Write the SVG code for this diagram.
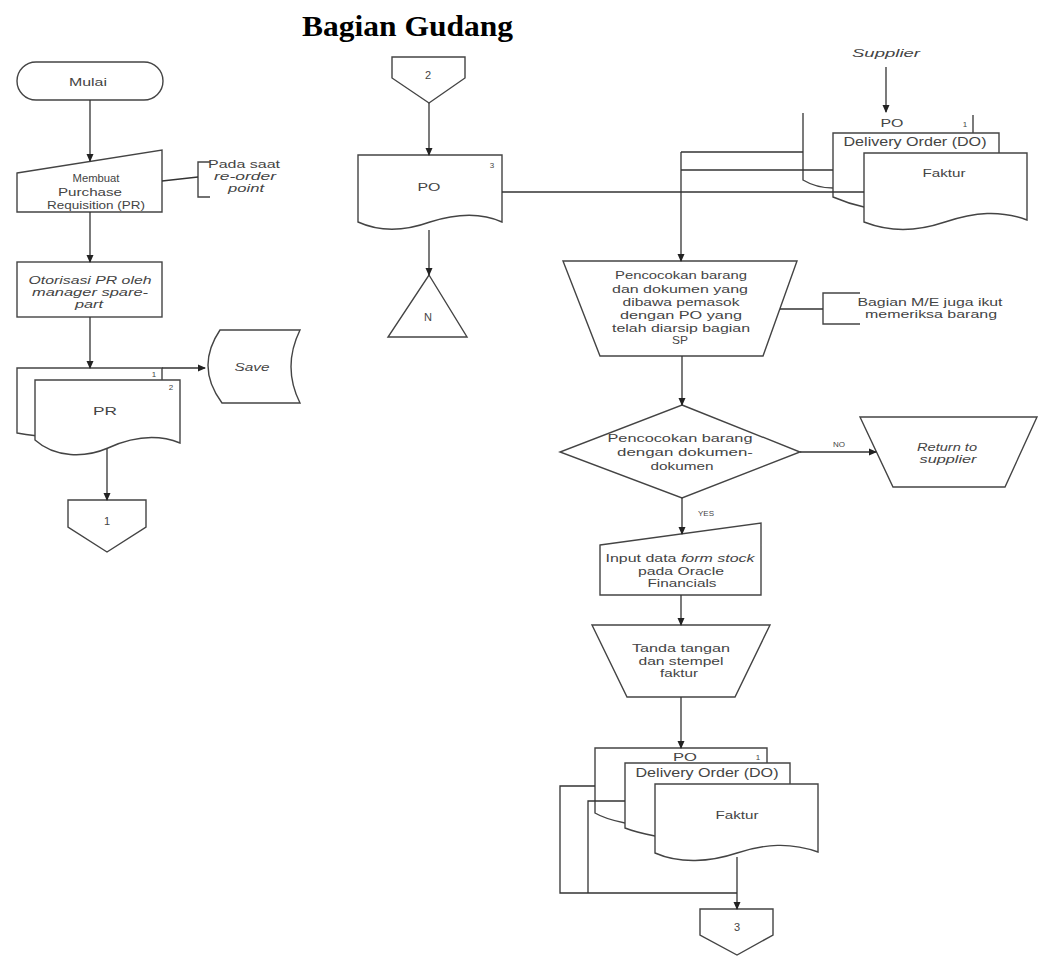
<svg xmlns="http://www.w3.org/2000/svg" width="1039" height="956" viewBox="0 0 1039 956">
<defs>
<marker id="ah" markerWidth="8" markerHeight="8" refX="7" refY="4" orient="auto" markerUnits="userSpaceOnUse">
<path d="M0,0.5 L8,4 L0,7.5 Z" fill="#222"/>
</marker>
<style>
.s{fill:#fff;stroke:#444;stroke-width:1.4}
.o{fill:none;stroke:#444;stroke-width:1.4}
.c{fill:none;stroke:#333;stroke-width:1.3}
.a{fill:none;stroke:#333;stroke-width:1.3;marker-end:url(#ah)}
text{font-family:"Liberation Sans",Arial,sans-serif;font-size:11px;fill:#444;text-anchor:middle}
.i{font-style:italic}
.m{font-size:12px}
.sm{font-size:8px}
.t{font-family:"Liberation Serif","Times New Roman",serif;font-weight:bold;font-size:30px;fill:#000;text-anchor:start}
</style>
</defs>
<rect width="1039" height="956" fill="#fff"/>
<text class="t" x="302" y="36" textLength="211" lengthAdjust="spacingAndGlyphs">Bagian Gudang</text>

<g id="mulai">
<rect class="s" x="17" y="62" width="146" height="38" rx="19"/>
<text x="88" y="86" textLength="38" lengthAdjust="spacingAndGlyphs">Mulai</text>
</g>
<g id="membuat-pr">
<path class="s" d="M17,173 L162,150 V212 H17 Z"/>
<text x="96" y="182" textLength="47" lengthAdjust="spacingAndGlyphs">Membuat</text>
<text x="90" y="196" textLength="64" lengthAdjust="spacingAndGlyphs">Purchase</text>
<text x="96" y="209" textLength="98" lengthAdjust="spacingAndGlyphs">Requisition (PR)</text>
</g>
<g id="note-reorder">
<path class="o" d="M210,162 H198 V197 H210"/>
<text x="244" y="168" textLength="72" lengthAdjust="spacingAndGlyphs">Pada saat</text>
<text class="i" x="245" y="180" textLength="62" lengthAdjust="spacingAndGlyphs">re-order</text>
<text class="i" x="246" y="192" textLength="36" lengthAdjust="spacingAndGlyphs">point</text>
</g>
<g id="otorisasi">
<rect class="s" x="17" y="262" width="145" height="55"/>
<text class="i" x="90" y="284" textLength="123" lengthAdjust="spacingAndGlyphs">Otorisasi PR oleh</text>
<text class="i" x="90" y="296" textLength="116" lengthAdjust="spacingAndGlyphs">manager spare-</text>
<text class="i" x="89" y="308" textLength="28" lengthAdjust="spacingAndGlyphs">part</text>
</g>
<g id="pr-docs">
<path class="s" d="M17,368 H162 V428 C100,436 50,440 17,433 Z"/>
<path class="s" d="M35,380 H180 V443 C155,433 130,438 108,448 C85,458 55,458 35,440 Z"/>
<text class="sm" x="154" y="377">1</text>
<text class="sm" x="171" y="390">2</text>
<text x="105" y="415" textLength="24" lengthAdjust="spacingAndGlyphs">PR</text>
</g>
<g id="save">
<path class="s" d="M220,330 H300 Q282,367 300,403 H222 Q195,367 220,330 Z"/>
<text class="i" x="252" y="371" textLength="35" lengthAdjust="spacingAndGlyphs">Save</text>
</g>
<g id="conn-1">
<path class="s" d="M68,500 H146 V527 L107,552 L68,527 Z"/>
<text x="107" y="525">1</text>
</g>

<g id="conn-2">
<path class="s" d="M392,57 H465 V78 L429,103 L392,78 Z"/>
<text x="428" y="79">2</text>
</g>
<g id="po-doc">
<path class="s" d="M358,155 H502 V222 C480,212 455,214 430,222 C405,231 380,232 358,222 Z"/>
<text class="sm" x="492" y="168">3</text>
<text x="429" y="191" textLength="23" lengthAdjust="spacingAndGlyphs">PO</text>
</g>
<g id="offline-n">
<path class="s" d="M429,275 L467,337 L388,337 Z"/>
<text x="428" y="321">N</text>
</g>

<g id="supplier">
<text class="i" x="886" y="57" textLength="68" lengthAdjust="spacingAndGlyphs">Supplier</text>
</g>
<g id="supplier-docs">
<path class="o" d="M803,113 V180 C813,186 823,188 833,188"/>
<path class="o" d="M973,115 V133"/>
<text x="892" y="127" textLength="23" lengthAdjust="spacingAndGlyphs">PO</text>
<text class="sm" x="965" y="127">1</text>
<path class="s" d="M833,133 H999 V200 C950,215 900,215 864,207 C850,204 840,200 833,197 Z"/>
<text class="m" x="915" y="146" textLength="143" lengthAdjust="spacingAndGlyphs">Delivery Order (DO)</text>
<path class="s" d="M864,153 H1027 V220 C1000,210 975,212 945,222 C915,232 890,232 864,222 Z"/>
<text x="944" y="177" textLength="43" lengthAdjust="spacingAndGlyphs">Faktur</text>
</g>

<g id="pencocokan-1">
<path class="s" d="M563,261 H797 L763,356 H600 Z"/>
<text x="681" y="279" textLength="132" lengthAdjust="spacingAndGlyphs">Pencocokan barang</text>
<text x="680" y="293" textLength="136" lengthAdjust="spacingAndGlyphs">dan dokumen yang</text>
<text x="681" y="306" textLength="117" lengthAdjust="spacingAndGlyphs">dibawa pemasok</text>
<text x="681" y="319" textLength="122" lengthAdjust="spacingAndGlyphs">dengan PO yang</text>
<text x="681" y="332" textLength="138" lengthAdjust="spacingAndGlyphs">telah diarsip bagian</text>
<text x="680" y="344" textLength="16" lengthAdjust="spacingAndGlyphs">SP</text>
</g>
<g id="note-me">
<path class="o" d="M860,293 H823 V324 H860"/>
<text x="930" y="306" textLength="145" lengthAdjust="spacingAndGlyphs">Bagian M/E juga ikut</text>
<text x="931" y="318" textLength="132" lengthAdjust="spacingAndGlyphs">memeriksa barang</text>
</g>
<g id="decision">
<path class="s" d="M682,405 L800,452 L682,498 L560,452 Z"/>
<text x="680" y="442" textLength="145" lengthAdjust="spacingAndGlyphs">Pencocokan barang</text>
<text x="685" y="456" textLength="136" lengthAdjust="spacingAndGlyphs">dengan dokumen-</text>
<text x="682" y="470" textLength="63" lengthAdjust="spacingAndGlyphs">dokumen</text>
</g>
<g id="return">
<path class="s" d="M860,417 H1037 L1005,487 H893 Z"/>
<text class="i" x="947" y="451" textLength="60" lengthAdjust="spacingAndGlyphs">Return to</text>
<text class="i" x="948" y="463" textLength="57" lengthAdjust="spacingAndGlyphs">supplier</text>
</g>
<g id="input-data">
<path class="s" d="M600,545 L761,523 V595 H600 Z"/>
<text x="680" y="562" textLength="149" lengthAdjust="spacingAndGlyphs">Input data <tspan class="i">form stock</tspan></text>
<text x="681" y="575" textLength="86" lengthAdjust="spacingAndGlyphs">pada Oracle</text>
<text x="682" y="587" textLength="69" lengthAdjust="spacingAndGlyphs">Financials</text>
</g>
<g id="tanda-tangan">
<path class="s" d="M592,625 H770 L735,697 H627 Z"/>
<text x="681" y="652" textLength="98" lengthAdjust="spacingAndGlyphs">Tanda tangan</text>
<text x="681" y="665" textLength="85" lengthAdjust="spacingAndGlyphs">dan stempel</text>
<text x="679" y="677" textLength="38" lengthAdjust="spacingAndGlyphs">faktur</text>
</g>
<g id="final-docs">
<path class="s" d="M595,748 H767 V815 C720,830 660,830 625,823 C610,820 600,816 595,813 Z"/>
<text x="685" y="761" textLength="24" lengthAdjust="spacingAndGlyphs">PO</text>
<text class="sm" x="758" y="760">1</text>
<path class="s" d="M625,763 H790 V830 C740,845 690,845 655,836 C640,833 630,830 625,828 Z"/>
<text class="m" x="707" y="777" textLength="143" lengthAdjust="spacingAndGlyphs">Delivery Order (DO)</text>
<path class="s" d="M655,784 H818 V852 C790,842 765,844 737,853 C710,862 680,864 655,853 Z"/>
<text x="737" y="819" textLength="43" lengthAdjust="spacingAndGlyphs">Faktur</text>
</g>
<g id="conn-3">
<path class="s" d="M700,909 H773 V935 L737,955 L700,935 Z"/>
<text x="737" y="931">3</text>
</g>

<g id="connectors">
<path class="a" d="M90,100 V161"/>
<path class="a" d="M90,212 V262"/>
<path class="a" d="M90,317 V368"/>
<path class="a" d="M162,368 H205"/>
<path class="a" d="M107,449 V500"/>
<path class="c" d="M162,181 L198,177"/>
<path class="a" d="M429,103 V155"/>
<path class="a" d="M429,230 V275"/>
<path class="c" d="M502,192 H864"/>
<path class="a" d="M886,67 V112"/>
<path class="c" d="M681,152 H803"/>
<path class="c" d="M681,170 H833"/>
<path class="a" d="M681,152 V261"/>
<path class="c" d="M780,309 H823"/>
<path class="a" d="M682,356 V405"/>
<path class="a" d="M800,452 H876"/>
<text class="sm" x="839" y="447">NO</text>
<path class="a" d="M682,498 V534"/>
<text class="sm" x="706" y="516">YES</text>
<path class="a" d="M681,595 V625"/>
<path class="a" d="M681,697 V748"/>
<path class="c" d="M595,786 H560 V893 H737"/>
<path class="c" d="M625,801 H588 V893"/>
<path class="a" d="M737,857 V909"/>
</g>
</svg>
